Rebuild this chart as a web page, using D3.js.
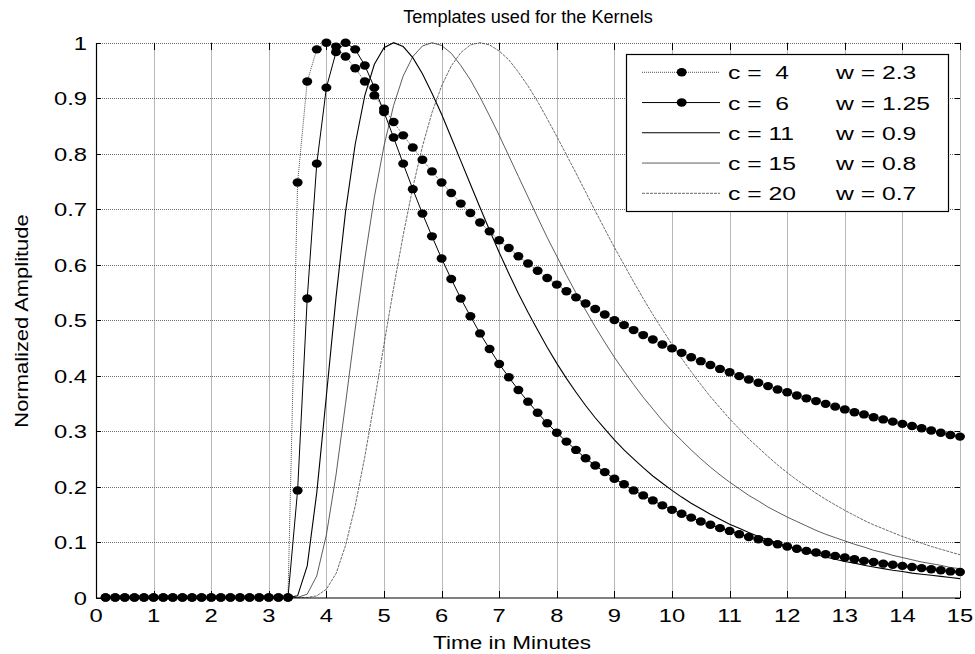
<!DOCTYPE html>
<html><head><meta charset="utf-8">
<script src="https://cdn.jsdelivr.net/npm/d3@7"></script>
<style>
body{margin:0;background:#fff}
svg{display:block}
text{font-family:"Liberation Sans",Arial,Helvetica,sans-serif;fill:#000;white-space:pre}
</style>
</head><body>
<svg id="chart" width="975" height="654"></svg>
<script>
// ---- data (sample times in minutes, 10 s apart) ----
const times = [0.167,0.333,0.5,0.667,0.833,1,1.167,1.333,1.5,1.667,1.833,2,2.167,2.333,2.5,2.667,2.833,3,3.167,3.333,
3.5,3.667,3.833,4,4.167,4.333,4.5,4.667,4.833,5,5.167,5.333,5.5,5.667,5.833,6,6.167,6.333,6.5,6.667,
6.833,7,7.167,7.333,7.5,7.667,7.833,8,8.167,8.333,8.5,8.667,8.833,9,9.167,9.333,9.5,9.667,9.833,10,
10.167,10.333,10.5,10.667,10.833,11,11.167,11.333,11.5,11.667,11.833,12,12.167,12.333,12.5,12.667,12.833,13,13.167,13.333,
13.5,13.667,13.833,14,14.167,14.333,14.5,14.667,14.833,15];

const kernelC4 = [0,0,0,0,0,0,0,0,0,0,0,0,0,0,0,0,0,0,0,0,
0.748,0.930,0.988,1,0.993,0.975,0.954,0.930,0.905,0.881,
0.857,0.833,0.811,0.789,0.768,0.748,0.729,0.710,0.693,0.676,
0.660,0.644,0.630,0.615,0.602,0.589,0.576,0.564,0.552,0.541,
0.530,0.520,0.510,0.500,0.491,0.482,0.473,0.465,0.456,0.449,
0.441,0.433,0.426,0.419,0.412,0.406,0.399,0.393,0.387,0.381,
0.375,0.370,0.364,0.359,0.354,0.349,0.344,0.339,0.334,0.330,
0.325,0.321,0.317,0.313,0.309,0.305,0.301,0.297,0.293,0.290];

const kernelC6 = [0,0,0,0,0,0,0,0,0,0,0,0,0,0,0,0,0,0,0,0,
0.193,0.539,0.782,0.919,0.983,1,0.988,0.959,0.919,0.875,
0.829,0.782,0.736,0.692,0.651,0.611,0.574,0.539,0.507,0.476,
0.448,0.421,0.397,0.374,0.353,0.333,0.314,0.297,0.281,0.266,
0.251,0.238,0.226,0.214,0.204,0.193,0.184,0.175,0.166,0.158,
0.151,0.144,0.137,0.131,0.125,0.120,0.114,0.109,0.105,0.100,
0.096,0.092,0.088,0.084,0.081,0.078,0.075,0.072,0.069,0.066,
0.064,0.061,0.059,0.057,0.055,0.053,0.051,0.049,0.047,0.046];

const kernelC11 = [0,0,0,0,0,0,0,0,0,0,0,0,0,0,0,0,0,0,0,0,
0.003,0.057,0.189,0.364,0.541,0.696,0.817,0.905,0.961,0.991,
1,0.993,0.973,0.944,0.909,0.871,0.829,0.787,0.745,0.703,
0.662,0.622,0.584,0.548,0.514,0.482,0.451,0.422,0.395,0.370,
0.346,0.324,0.304,0.284,0.266,0.250,0.234,0.219,0.206,0.193,
0.181,0.170,0.160,0.150,0.141,0.132,0.125,0.117,0.110,0.104,
0.098,0.092,0.087,0.082,0.077,0.073,0.069,0.065,0.062,0.058,
0.055,0.052,0.049,0.047,0.044,0.042,0.040,0.038,0.036,0.034];

const kernelC15 = [0,0,0,0,0,0,0,0,0,0,0,0,0,0,0,0,0,0,0,0,
0,0.006,0.039,0.113,0.221,0.350,0.484,0.610,0.722,0.814,
0.887,0.940,0.975,0.994,1,0.995,0.981,0.959,0.933,0.902,
0.868,0.833,0.796,0.759,0.722,0.685,0.649,0.615,0.581,0.549,
0.518,0.488,0.460,0.433,0.408,0.384,0.361,0.340,0.319,0.300,
0.283,0.266,0.250,0.235,0.221,0.208,0.196,0.184,0.174,0.163,
0.154,0.145,0.137,0.129,0.121,0.114,0.108,0.102,0.096,0.091,
0.085,0.081,0.076,0.072,0.068,0.064,0.061,0.058,0.054,0.052];

const kernelC20 = [0,0,0,0,0,0,0,0,0,0,0,0,0,0,0,0,0,0,0,0,
0,0,0.003,0.015,0.043,0.094,0.165,0.254,0.353,0.456,
0.558,0.653,0.739,0.813,0.874,0.922,0.958,0.982,0.996,1,
0.996,0.985,0.969,0.947,0.922,0.894,0.863,0.831,0.798,0.765,
0.731,0.697,0.664,0.631,0.600,0.569,0.539,0.510,0.483,0.456,
0.431,0.407,0.384,0.362,0.342,0.322,0.304,0.286,0.270,0.254,
0.239,0.225,0.212,0.200,0.188,0.177,0.167,0.157,0.148,0.139,
0.131,0.124,0.117,0.110,0.104,0.098,0.092,0.087,0.082,0.077];

const legendC = ["c =  4","c =  6","c = 11","c = 15","c = 20"];
const legendW = ["w = 2.3","w = 1.25","w = 0.9","w = 0.8","w = 0.7"];
const xTicks = [0,1,2,3,4,5,6,7,8,9,10,11,12,13,14,15];
const xTickLabels = ["0","1","2","3","4","5","6","7","8","9","10","11","12","13","14","15"];
const yTicks = [0,0.1,0.2,0.3,0.4,0.5,0.6,0.7,0.8,0.9,1];
const yTickLabels = ["0","0.1","0.2","0.3","0.4","0.5","0.6","0.7","0.8","0.9","1"];
const titleText = "Templates used for the Kernels";
const xLabelText = "Time in Minutes";
const yLabelText = "Normalized Amplitude";

// ---- drawing ----
const svg = d3.select("#chart");
const L = 96, R = 960, T = 42.7, B = 597.5;
const x = d3.scaleLinear().domain([0, 15]).range([L, R]);
const y = d3.scaleLinear().domain([0, 1]).range([B, T]);
const px = v => Math.round(v) + 0.5;

function label(str, tx, ty, size, sx, anchor, rot) {
  return svg.append("text")
    .attr("transform", `translate(${tx},${ty})` + (rot ? ` rotate(${rot})` : "") + ` scale(${sx},1)`)
    .attr("text-anchor", anchor)
    .style("font-size", size + "px")
    .text(str);
}

// grid
const grid = svg.append("g").attr("stroke", "#6e6e6e").attr("stroke-width", 1).attr("stroke-dasharray", "1,1");
grid.selectAll("line.v").data(xTicks.slice(1)).join("line")
  .attr("x1", d => px(x(d))).attr("x2", d => px(x(d))).attr("y1", y(0)).attr("y2", y(1));
grid.selectAll("line.h").data(yTicks.slice(1)).join("line")
  .attr("y1", d => px(y(d))).attr("y2", d => px(y(d))).attr("x1", x(0)).attr("x2", x(15));

const line = d3.line().x((d, i) => x(times[i])).y(d => y(d));
const styles = [
  {data: kernelC20, stroke: "#444", w: 0.8, dash: "3,1"},
  {data: kernelC15, stroke: "#333", w: 0.8, dash: null},
  {data: kernelC11, stroke: "#000", w: 1.1, dash: null},
  {data: kernelC4, stroke: "#222", w: 0.8, dash: "1,1"},
  {data: kernelC6, stroke: "#000", w: 1, dash: null}
];
styles.forEach(s => {
  svg.append("path").datum(s.data).attr("d", line)
    .attr("fill", "none").attr("stroke", s.stroke).attr("stroke-width", s.w)
    .attr("stroke-dasharray", s.dash);
});
[kernelC4, kernelC6].forEach(ser => {
  svg.append("g").selectAll("ellipse").data(ser).join("ellipse")
    .attr("cx", (d, i) => x(times[i])).attr("cy", d => y(d))
    .attr("rx", 5).attr("ry", 4.2).attr("fill", "#000");
});

// axes (ticks inward)
const axB = svg.append("g").attr("transform", `translate(0,${B})`)
  .call(d3.axisBottom(x).tickValues(xTicks).tickFormat("").tickSize(-7).tickSizeOuter(0));
const axT = svg.append("g").attr("transform", `translate(0,${T})`)
  .call(d3.axisTop(x).tickValues(xTicks).tickFormat("").tickSize(-7).tickSizeOuter(0));
const axL = svg.append("g").attr("transform", `translate(${L},0)`)
  .call(d3.axisLeft(y).tickValues(yTicks).tickFormat("").tickSize(-5).tickSizeOuter(0));
const axR = svg.append("g").attr("transform", `translate(${R},0)`)
  .call(d3.axisRight(y).tickValues(yTicks).tickFormat("").tickSize(-5).tickSizeOuter(0));
[axT, axR].forEach(a => a.select(".domain").remove());
[axB, axT, axL, axR].forEach(a => a.selectAll("line").attr("stroke", "#000").attr("shape-rendering", "crispEdges"));
[axB, axL].forEach(a => a.select(".domain").attr("stroke", "#000").attr("stroke-width", 1.2));

// tick labels
xTicks.forEach((d, i) => label(xTickLabels[i], x(d), 622, 19, 1.25, "middle"));
yTicks.forEach((d, i) => label(yTickLabels[i], 87, y(d) + 7, 19, 1.25, "end"));

// titles
label(titleText, 528, 23, 18.5, 0.98, "middle");
label(xLabelText, 512, 649, 18, 1.25, "middle");
label(yLabelText, 28, 321, 18, 1.22, "middle", -90);

// legend
const lg = svg.append("g");
lg.append("rect").attr("x", 626.5).attr("y", 54.5).attr("width", 322).attr("height", 157)
  .attr("fill", "#fff").attr("stroke", "#000").attr("stroke-width", 1.2);
const legStyles = [styles[3], styles[4], styles[2], styles[1], styles[0]];
legendC.forEach((c, i) => {
  const ly = 72.3 + i * 30.25;
  const s = legStyles[i];
  lg.append("line").attr("x1", 642).attr("x2", 720).attr("y1", ly).attr("y2", ly)
    .attr("stroke", s.stroke).attr("stroke-width", s.w).attr("stroke-dasharray", s.dash);
  if (i < 2) lg.append("ellipse").attr("cx", 681.7).attr("cy", ly).attr("rx", 5).attr("ry", 4.2).attr("fill", "#000");
  label(c, 728, ly + 7, 19, 1.3, "start");
  label(legendW[i], 836, ly + 7, 19, 1.3, "start");
});
</script>
</body></html>
